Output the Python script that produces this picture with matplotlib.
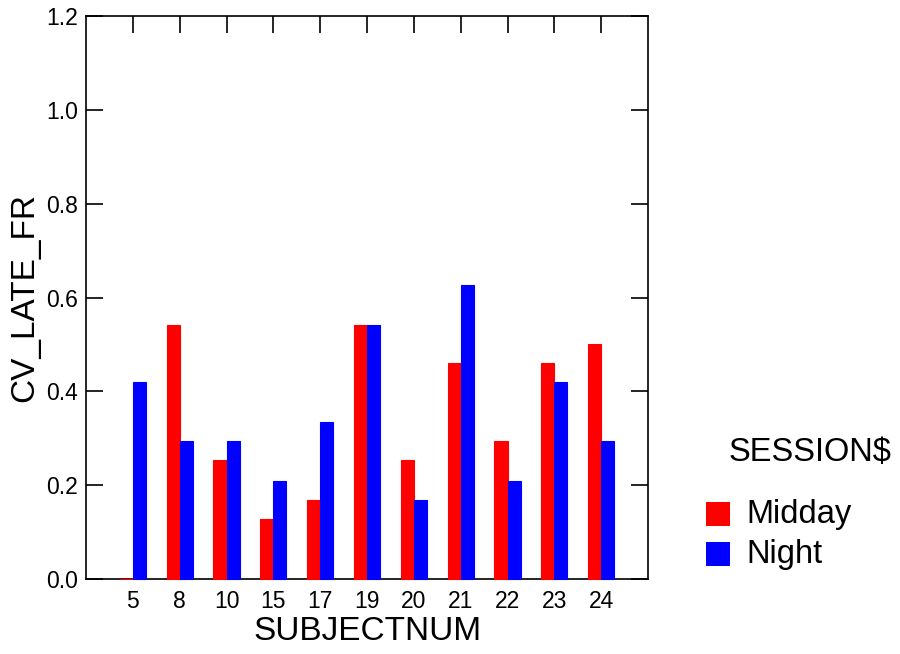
import matplotlib
matplotlib.use("Agg")
import matplotlib.pyplot as plt
from matplotlib.patches import Rectangle
import numpy as np

subjects = ["5", "8", "10", "15", "17", "19", "20", "21", "22", "23", "24"]
midday = [0.0, 0.541, 0.254, 0.128, 0.168, 0.541, 0.254, 0.46, 0.294, 0.46, 0.50]
night = [0.42, 0.294, 0.294, 0.209, 0.335, 0.541, 0.168, 0.627, 0.209, 0.42, 0.294]
sessions = ["Midday", "Night"]
colors = ["#ff0000", "#0000ff"]
yticks = [0.0, 0.2, 0.4, 0.6, 0.8, 1.0, 1.2]

plt.rcParams["font.family"] = ["Liberation Sans", "DejaVu Sans"]

fig = plt.figure(figsize=(9, 6.54), dpi=100)
ax = fig.add_axes([0.0956, 0.1147, 0.6244, 0.8608])

x = np.arange(len(subjects))
w = 0.28
ax.bar(x - w / 2, midday, width=w, color=colors[0], edgecolor=colors[0],
       linewidth=0.8, zorder=3, clip_on=False)
ax.bar(x + w / 2, night, width=w, color=colors[1], edgecolor=colors[1],
       linewidth=0.8, zorder=3, clip_on=False)

ax.set_xlim(-1, len(subjects))
ax.set_ylim(0, 1.2)
ax.set_yticks(yticks)
ax.set_yticklabels([f"{v:.1f}" for v in yticks])
ax.set_xticks(x)
ax.set_xticklabels(subjects)

for s in ax.spines.values():
    s.set_linewidth(1.2)
    s.set_color("black")

ax.tick_params(axis="y", which="both", direction="in", length=12, width=1.2,
               left=True, right=True, labelsize=16.5, pad=6)
ax.tick_params(axis="x", which="both", direction="in", length=12, width=1.2,
               bottom=False, top=True, labelsize=16.5, pad=8)

ax.set_xlabel("SUBJECTNUM", fontsize=24, labelpad=2)
ax.set_ylabel("CV_LATE_FR", fontsize=24, labelpad=4)

# legend drawn in figure coordinates
W, H = 900, 654
fig.text(810 / W, 1 - 452 / H, "SESSION$", fontsize=23.5, ha="center", va="center")
for i, (lab, c) in enumerate(zip(sessions, colors)):
    y0 = 502 + i * 40
    fig.patches.append(Rectangle((706 / W, 1 - (y0 + 24) / H), 24 / W, 24 / H,
                                 transform=fig.transFigure, facecolor=c,
                                 edgecolor="none"))
    fig.text(746 / W, 1 - (y0 + 13) / H, lab, fontsize=23.5, ha="left", va="center")

fig.savefig("out.png", dpi=100)
